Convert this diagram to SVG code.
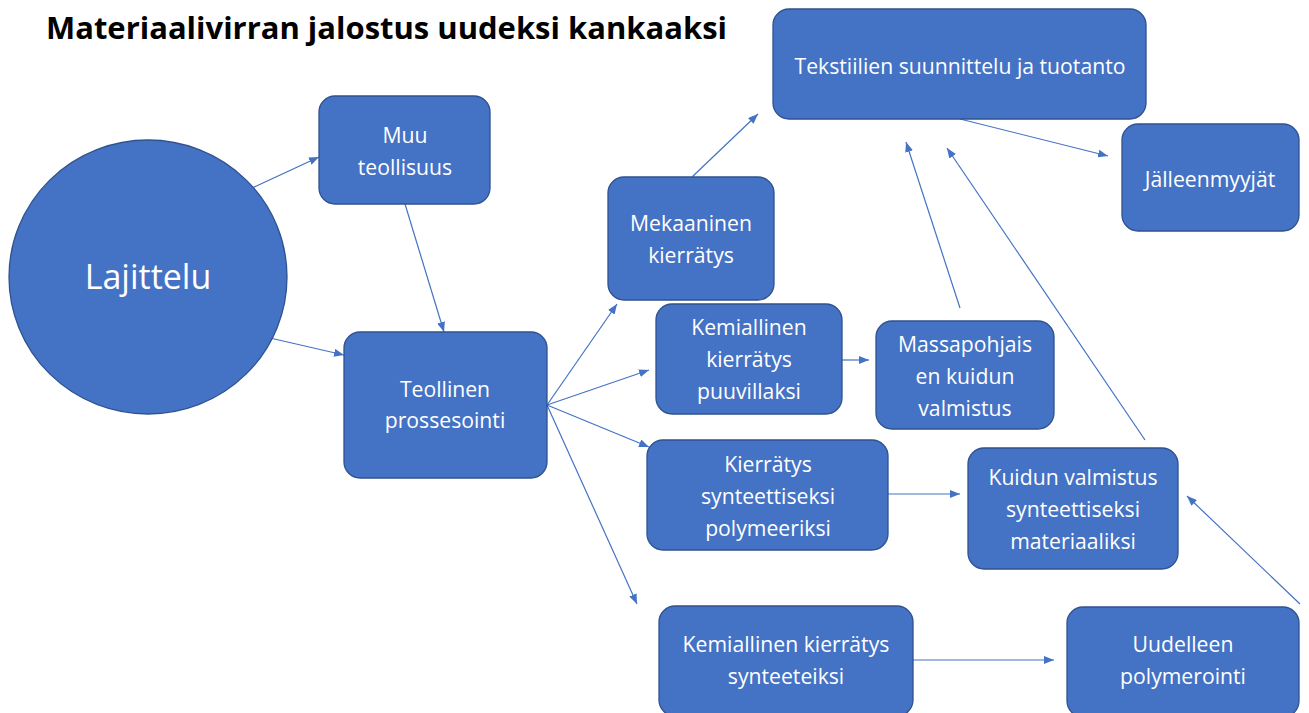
<svg xmlns="http://www.w3.org/2000/svg" width="1309" height="713" viewBox="0 0 1309 713">
<style>
.n rect, .n ellipse { fill:#4472C4; stroke:#2F528F; stroke-width:1.3; }
.n text { fill:#fff; font-family:"Open Sans", "Liberation Sans", Arial, sans-serif; font-size:21.2px; text-anchor:middle; }
.c line { stroke:#4472C4; stroke-width:1.2; marker-end:url(#ah); }
.title { font-family:"Open Sans", "Liberation Sans", Arial, sans-serif; font-weight:bold; font-size:31px; fill:#000; }
</style>
<defs>
<marker id="ah" viewBox="0 0 10 8" refX="10" refY="4" markerWidth="10" markerHeight="8" markerUnits="userSpaceOnUse" orient="auto">
<path d="M0,0 L10,4 L0,8 Z" fill="#4472C4"/>
</marker>
</defs>
<rect width="1309" height="713" fill="#fff"/>
<text class="title" x="46" y="39" textLength="681" lengthAdjust="spacingAndGlyphs">Materiaalivirran jalostus uudeksi kankaaksi</text>
<g class="c">
<line x1="248" y1="190" x2="319" y2="157"/>
<line x1="270" y1="338" x2="344" y2="355"/>
<line x1="405" y1="204" x2="444" y2="332"/>
<line x1="547" y1="405" x2="617" y2="304"/>
<line x1="547" y1="405" x2="649" y2="370"/>
<line x1="547" y1="405" x2="649" y2="447"/>
<line x1="547" y1="405" x2="637" y2="604"/>
<line x1="692" y1="177" x2="758" y2="114"/>
<line x1="842" y1="360" x2="869" y2="360"/>
<line x1="960" y1="308" x2="906" y2="142"/>
<line x1="1145" y1="440" x2="947" y2="148"/>
<line x1="960" y1="119" x2="1108" y2="156"/>
<line x1="888" y1="494" x2="960" y2="494"/>
<line x1="913" y1="660" x2="1054" y2="660"/>
<line x1="1300" y1="604" x2="1187" y2="496"/>
</g>
<g id="lajittelu" class="n">
<ellipse cx="148" cy="277" rx="139" ry="137"/>
<text x="148" y="289" style="font-size:34px">Lajittelu</text>
</g>
<g id="muu" class="n">
<rect x="319" y="96" width="171" height="108" rx="16"/>
<text x="405" y="143">Muu</text>
<text x="405" y="175">teollisuus</text>
</g>
<g id="teollinen" class="n">
<rect x="344" y="332" width="203" height="146" rx="16"/>
<text x="445" y="397">Teollinen</text>
<text x="445" y="428">prossesointi</text>
</g>
<g id="mekaaninen" class="n">
<rect x="608" y="177" width="166" height="123" rx="16"/>
<text x="691" y="231">Mekaaninen</text>
<text x="691" y="263">kierrätys</text>
</g>
<g id="tekstiilien" class="n">
<rect x="773" y="9" width="373" height="110" rx="16"/>
<text x="960" y="74">Tekstiilien suunnittelu ja tuotanto</text>
</g>
<g id="jalleenmyyjat" class="n">
<rect x="1122" y="124" width="177" height="107" rx="16"/>
<text x="1210" y="187">Jälleenmyyjät</text>
</g>
<g id="kemiallinen-puuvilla" class="n">
<rect x="656" y="304" width="186" height="110" rx="16"/>
<text x="749" y="335">Kemiallinen</text>
<text x="749" y="367">kierrätys</text>
<text x="749" y="399">puuvillaksi</text>
</g>
<g id="massapohjais" class="n">
<rect x="876" y="321" width="178" height="108" rx="16"/>
<text x="965" y="352">Massapohjais</text>
<text x="965" y="384">en kuidun</text>
<text x="965" y="416">valmistus</text>
</g>
<g id="kierratys-synteettiseksi" class="n">
<rect x="647" y="440" width="241" height="110" rx="16"/>
<text x="768" y="472">Kierrätys</text>
<text x="768" y="504">synteettiseksi</text>
<text x="768" y="536">polymeeriksi</text>
</g>
<g id="kuidun-valmistus" class="n">
<rect x="968" y="448" width="210" height="121" rx="16"/>
<text x="1073" y="485">Kuidun valmistus</text>
<text x="1073" y="517">synteettiseksi</text>
<text x="1073" y="549">materiaaliksi</text>
</g>
<g id="kemiallinen-synteeteiksi" class="n">
<rect x="659" y="606" width="254" height="110" rx="16"/>
<text x="786" y="652">Kemiallinen kierrätys</text>
<text x="786" y="684">synteeteiksi</text>
</g>
<g id="uudelleen" class="n">
<rect x="1067" y="607" width="232" height="110" rx="16"/>
<text x="1183" y="652">Uudelleen</text>
<text x="1183" y="684">polymerointi</text>
</g>
</svg>
